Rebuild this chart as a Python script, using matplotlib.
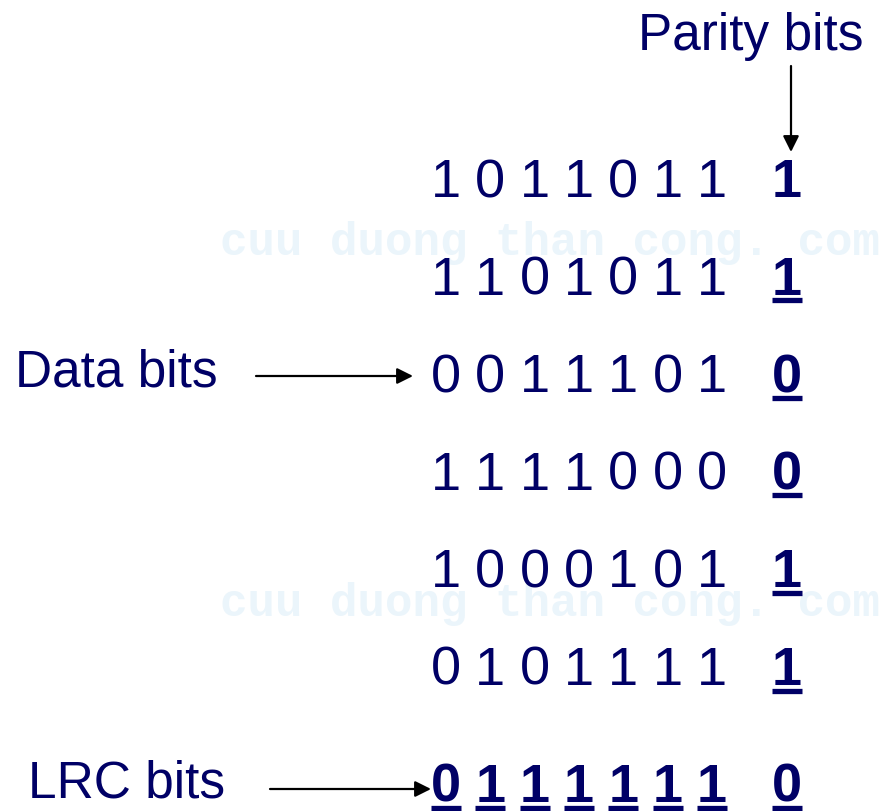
#LRC / parity bits diagram
import matplotlib.pyplot as plt

#data rows (7 data bits each) and their parity bits
data_rows = ['1011011', '1101011', '0011101', '1111000', '1000101', '0101111']
parity_bits = ['1', '1', '0', '0', '1', '1']
parity_underlined = [False, True, True, True, True, True]
lrc_bits = '0111111'
lrc_parity = '0'

navy = '#000066'
wm_color = '#ebf5fb'

#layout (pixels)
col_x0, col_dx = 446, 44.3
parity_x = 787
row_y0, row_dy = 197, 97.6
lrc_y = 802

fig = plt.figure(figsize=(8.89, 8.12), dpi=100)
ax = fig.add_axes([0, 0, 1, 1])
ax.set_xlim(0, 889)
ax.set_ylim(812, 0)
ax.axis('off')

plt.rcParams['font.family'] = ['Liberation Sans', 'DejaVu Sans']

#watermark
for wy in [255, 616]:
    ax.text(220, wy, 'cuu duong than cong. com', fontsize=33, color=wm_color,
            family='Liberation Mono', fontweight='bold', va='baseline', ha='left', zorder=0)

def underline(x, y):
    ax.plot([x - 15, x + 15], [y + 6.5, y + 6.5], color=navy, lw=3.8, solid_capstyle='butt')

#data rows
for r, row in enumerate(data_rows):
    y = row_y0 + r * row_dy
    for c, bit in enumerate(row):
        ax.text(col_x0 + c * col_dx, y, bit, fontsize=39, color=navy, ha='center', va='baseline')
    ax.text(parity_x, y, parity_bits[r], fontsize=39, color=navy, fontweight='bold',
            ha='center', va='baseline')
    if parity_underlined[r]:
        underline(parity_x, y)

#LRC row
for c, bit in enumerate(lrc_bits):
    x = col_x0 + c * col_dx
    ax.text(x, lrc_y, bit, fontsize=39, color=navy, fontweight='bold', ha='center', va='baseline')
    underline(x, lrc_y)
ax.text(parity_x, lrc_y, lrc_parity, fontsize=39, color=navy, fontweight='bold', ha='center', va='baseline')
underline(parity_x, lrc_y)

#labels
ax.text(638, 50, 'Parity bits', fontsize=37, color=navy, ha='left', va='baseline')
ax.text(15, 387, 'Data bits', fontsize=37, color=navy, ha='left', va='baseline')
ax.text(28, 798, 'LRC bits', fontsize=37, color=navy, ha='left', va='baseline')

#arrows
arrow = dict(arrowstyle='-|>', color='black', lw=1.6, mutation_scale=24, shrinkA=0, shrinkB=0)
ax.annotate('', xy=(791, 153), xytext=(791, 67), arrowprops=arrow)
ax.annotate('', xy=(413, 377), xytext=(256, 377), arrowprops=arrow)
ax.annotate('', xy=(431, 790), xytext=(270, 790), arrowprops=arrow)

plt.savefig('out.png', dpi=100)
